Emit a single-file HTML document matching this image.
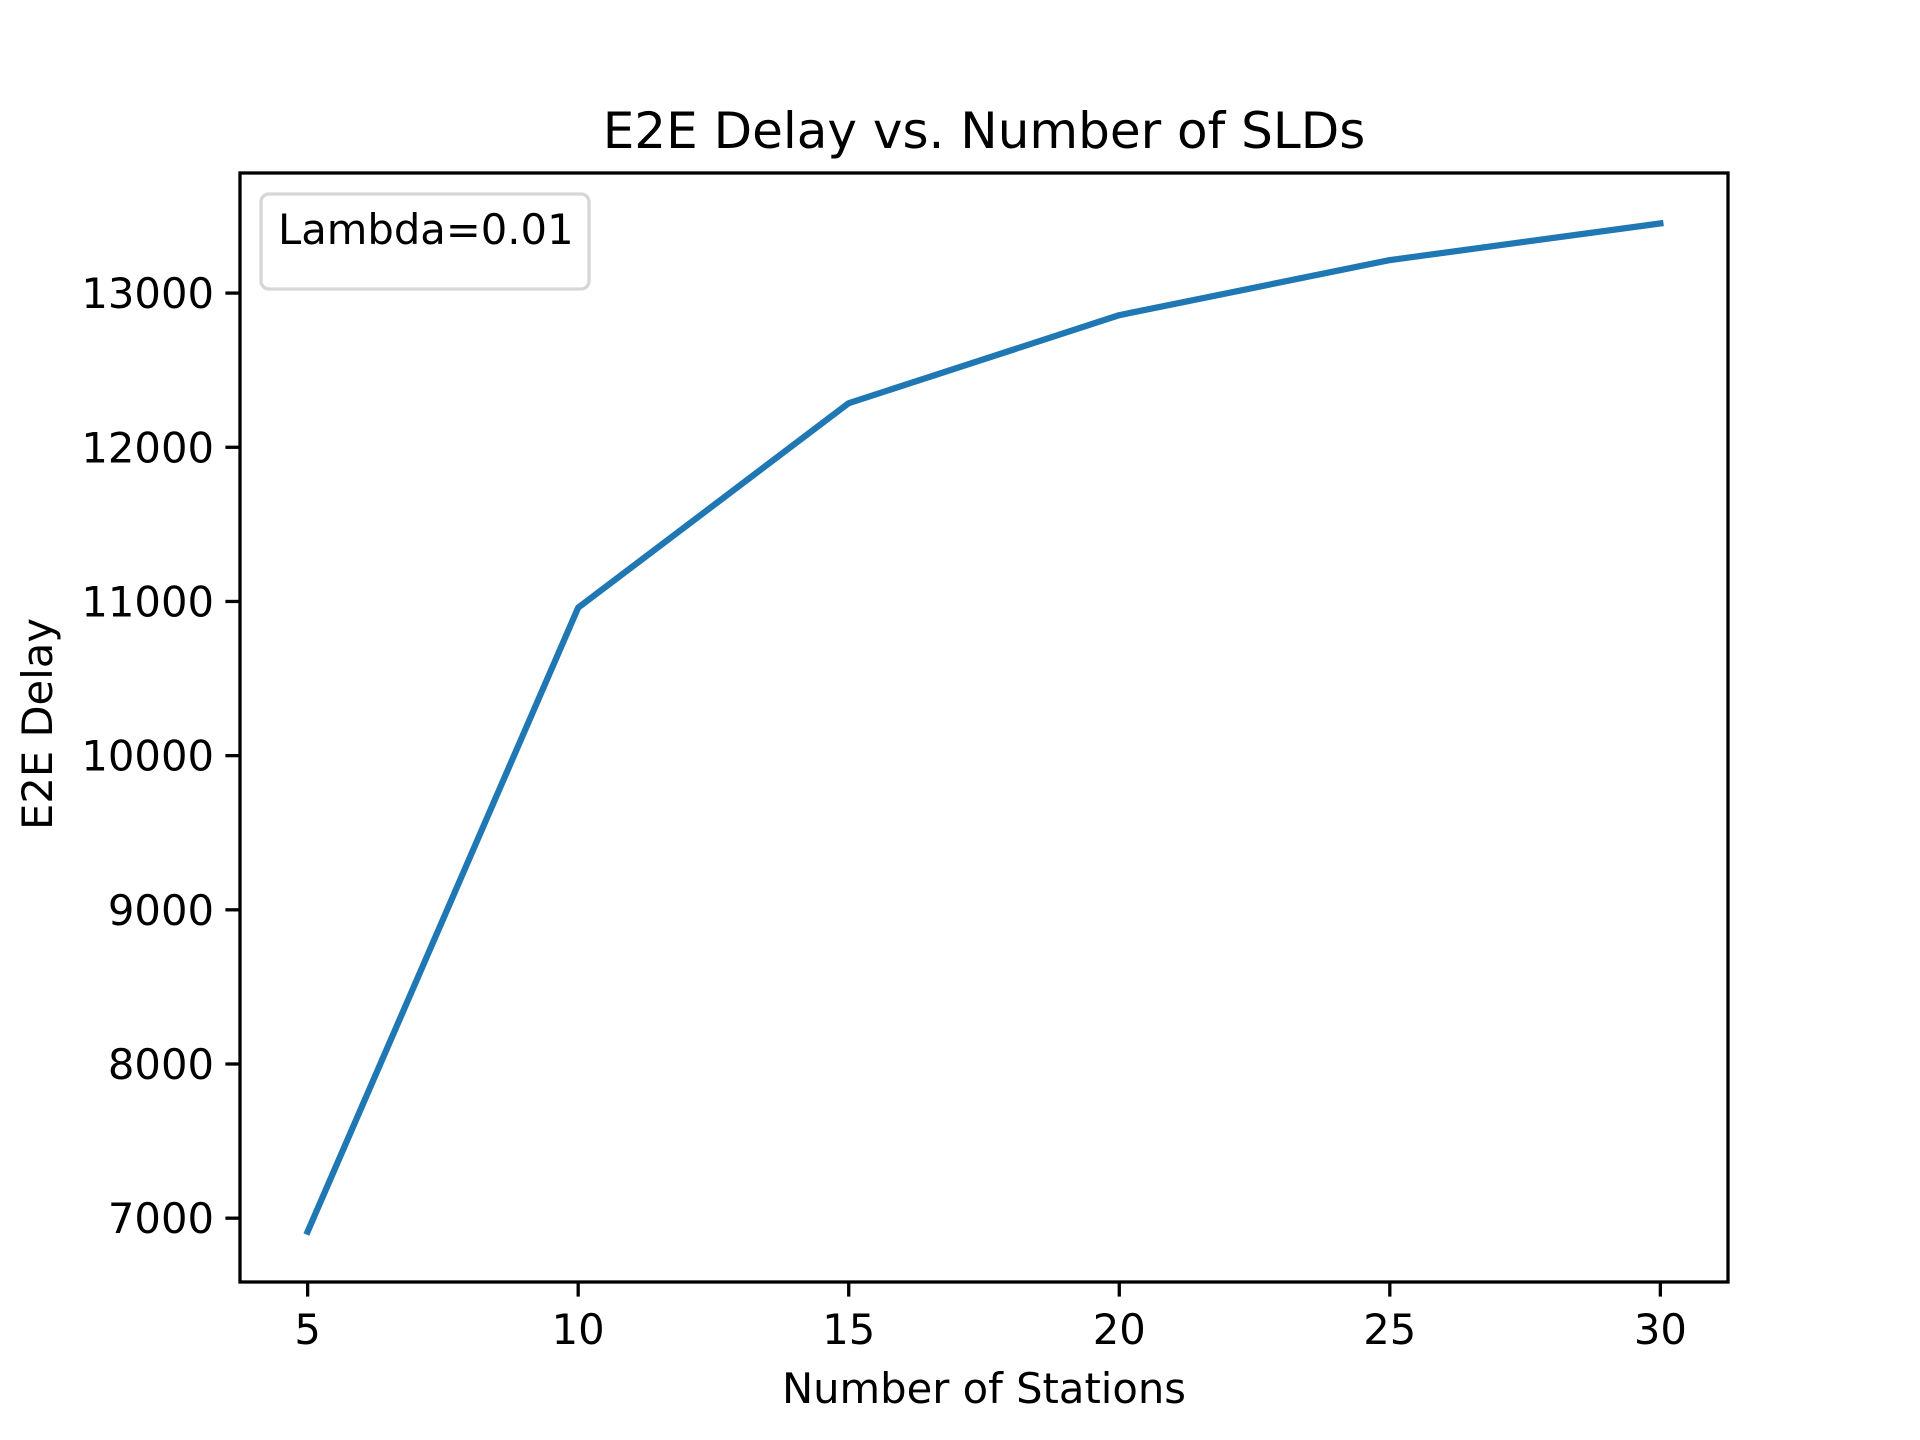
<!DOCTYPE html>
<html><head><meta charset="utf-8"><style>
html,body{margin:0;padding:0;background:#fff;}
svg{display:block;font-family:"DejaVu Sans","Liberation Sans",sans-serif;}
</style></head><body>
<svg id="chart" width="1920" height="1440" viewBox="0 0 1920 1440" xmlns="http://www.w3.org/2000/svg">
<rect width="1920" height="1440" fill="#fff"/>
<text x="984" y="148" font-size="50" text-anchor="middle" fill="#000">E2E Delay vs. Number of SLDs</text>
<g id="axes"></g>
<text x="984" y="1403" font-size="41.7" text-anchor="middle" fill="#000">Number of Stations</text>
<text transform="translate(52,724) rotate(-90)" font-size="41.7" text-anchor="middle" fill="#000">E2E Delay</text>
</svg>
<script>
const categories = [5, 10, 15, 20, 25, 30];
const delayValues = [6913, 10960, 12286, 12857, 13214, 13452];
const xTickLabels = ["5", "10", "15", "20", "25", "30"];
const yTickValues = [7000, 8000, 9000, 10000, 11000, 12000, 13000];

const L = 240, R = 1728, T = 173, B = 1282;
const xmin0 = Math.min(...categories), xmax0 = Math.max(...categories);
const xpad = (xmax0 - xmin0) * 0.05;
const xmin = xmin0 - xpad, xmax = xmax0 + xpad;
const ymin0 = Math.min(...delayValues), ymax0 = Math.max(...delayValues);
const ypad = (ymax0 - ymin0) * 0.05;
const ymin = ymin0 - ypad, ymax = ymax0 + ypad;
function xs(v){ return L + (v - xmin) / (xmax - xmin) * (R - L); }
function ys(v){ return B - (v - ymin) / (ymax - ymin) * (B - T); }

const NS = "http://www.w3.org/2000/svg";
const g = document.getElementById("axes");
function mk(tag, attrs){ const e = document.createElementNS(NS, tag); for (const k in attrs) e.setAttribute(k, attrs[k]); g.appendChild(e); return e; }

const d = categories.map((c, i) => (i ? "L" : "M") + xs(c).toFixed(2) + "," + ys(delayValues[i]).toFixed(2)).join(" ");
const line = mk("path", {d: d, fill: "none", stroke: "#1f77b4", "stroke-width": 6.25, "stroke-linejoin": "round", "stroke-linecap": "square"});



categories.forEach((c, i) => {
  const x = xs(c);
  const t = mk("line", {x1: x, x2: x, y1: B, y2: B + 14.6, stroke: "#000", "stroke-width": 3.3});
  
  
  const lb = mk("text", {x: x, y: B + 62, "font-size": 41.7, "text-anchor": "middle", fill: "#000"});
  lb.textContent = xTickLabels[i];
  
  
});
yTickValues.forEach(v => {
  const y = ys(v);
  const t = mk("line", {x1: L - 14.6, x2: L, y1: y, y2: y, stroke: "#000", "stroke-width": 3.3});
  
  
  const lb = mk("text", {x: L - 26, y: y + 15, "font-size": 41.7, "text-anchor": "end", fill: "#000"});
  lb.textContent = String(v);
  
  
});

const frame = mk("rect", {x: L, y: T, width: R - L, height: B - T, fill: "none", stroke: "#000", "stroke-width": 3.3});



const lg = mk("rect", {x: 261, y: 194, width: 328, height: 95, rx: 8, fill: "#fff", "fill-opacity": 0.8, stroke: "#d6d6d6", "stroke-width": 3.3});


const lt = mk("text", {x: 278, y: 244, "font-size": 41.7, fill: "#000"});
lt.textContent = "Lambda=0.01";


</script>
</body></html>
